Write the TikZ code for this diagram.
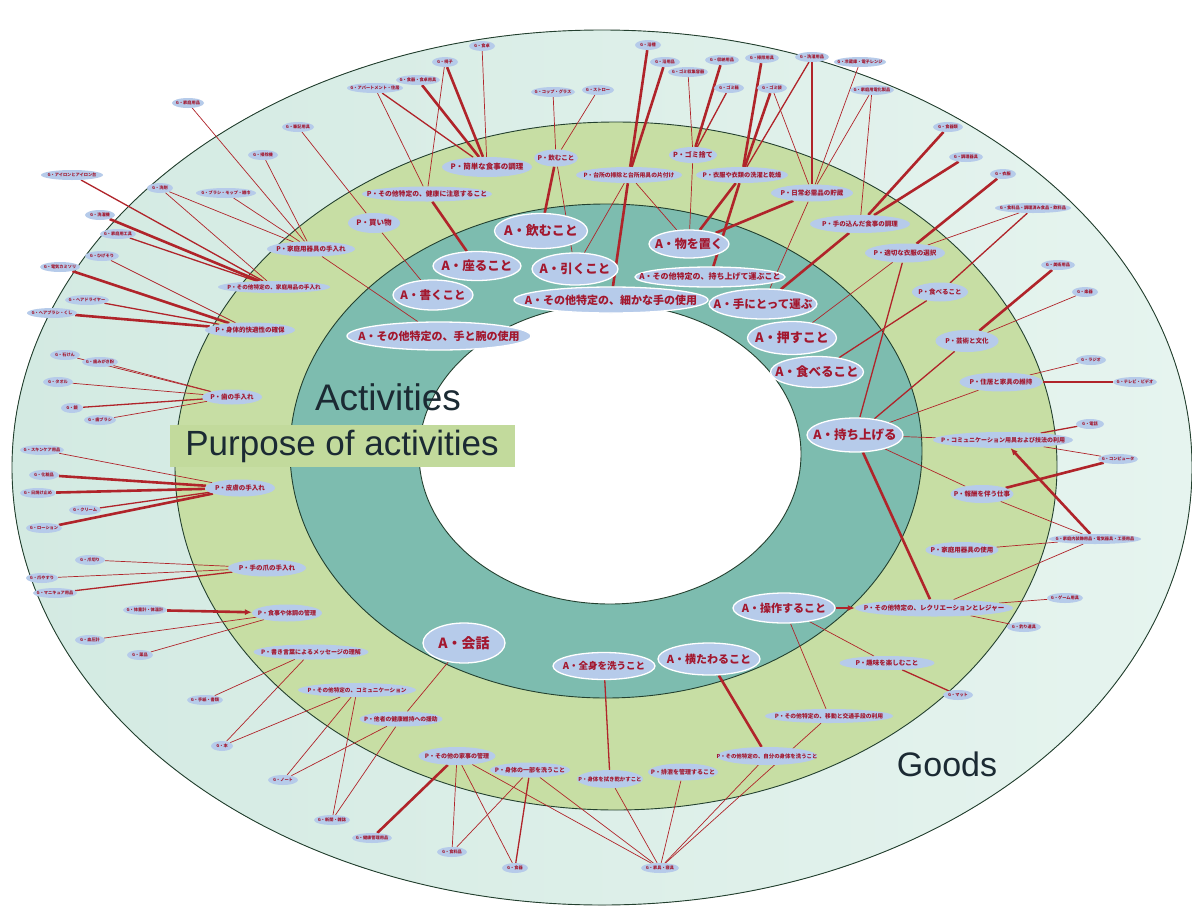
\documentclass[tikz,border=0pt]{standalone}
\usepackage{fontspec}
\newfontfamily\jp{Noto Sans CJK JP}
\newfontfamily\lab{Liberation Sans}
\usetikzlibrary{shapes.geometric,arrows.meta}
\definecolor{goodsA}{HTML}{D3EAE2}
\definecolor{goodsB}{HTML}{E6F4EF}
\definecolor{purring}{HTML}{C7DEA4}
\definecolor{actring}{HTML}{7DBCAF}
\definecolor{ringline}{HTML}{23402F}
\definecolor{blobfill}{HTML}{B6CBEA}
\definecolor{blobtext}{HTML}{A3172E}
\definecolor{linkred}{HTML}{B0242A}
\definecolor{labtext}{HTML}{1B2A33}
\definecolor{labbox}{HTML}{C2DA9C}
\pgfdeclarelayer{rings}
\pgfdeclarelayer{links}
\pgfsetlayers{rings,links,main}
\begin{document}
\begin{tikzpicture}[x=1pt,y=-1pt,
  ring/.style={draw=ringline, line width=0.9pt},
  boxed/.style={execute at begin node={\hbox to 0pt\bgroup\hss}, execute at end node={\hss\egroup}},
  fs/.style={font=\jp\bfseries\fontsize{#1}{#1}\selectfont},
  blob/.style={ellipse, inner sep=0pt, fill=blobfill, text=blobtext, boxed},
  act/.style n args={3}{blob, draw=white, line width=1.3pt, minimum width=#1, minimum height=#2, fs=#3},
  pur/.style n args={3}{blob, minimum width=#1, minimum height=#2, fs=#3},
  gd/.style={blob, minimum width=#1, minimum height=10, fs=4.2},
  lk/.style={draw=linkred, line width=0.7pt},
  lkm/.style={draw=linkred, line width=1.3pt},
  lkt/.style={draw=linkred, line width=2.6pt},
  lka/.style={draw=linkred, line width=2.6pt, -{Latex[length=7pt,width=6pt]}},
  biglab/.style={font=\lab\fontsize{#1}{#1}\selectfont, text=labtext, inner sep=0pt}
]
\useasboundingbox (0,0) rectangle (1192,908);

\begin{pgfonlayer}{rings}
  \fill[white] (0,0) rectangle (1192,908);
  \fill[left color=goodsA, right color=goodsB] (602,467.5) ellipse [x radius=590pt, y radius=437.5pt];
  \draw[ring] (602,467.5) ellipse [x radius=590pt, y radius=437.5pt];
  \fill[purring] (616,466) ellipse [x radius=441pt, y radius=344pt];
  \draw[ring] (616,466) ellipse [x radius=441pt, y radius=344pt];
  \fill[actring] (606,451) ellipse [x radius=316pt, y radius=247pt];
  \draw[ring] (606,451) ellipse [x radius=316pt, y radius=247pt];
  \fill[white] (610,454) ellipse [x radius=191pt, y radius=150pt];
  \draw[ring] (610,454) ellipse [x radius=191pt, y radius=150pt];
\end{pgfonlayer}

% ring titles
\node[biglab=37] (actlab) at (388,397) {Activities};
\node[biglab=35, fill=labbox, minimum width=345pt, minimum height=42pt] (purlab) at (342,446) {Purpose of activities};
\node[biglab=34] (goodlab) at (947,764) {Goods};

% activities
\node[act={93}{35}{13}] (a1) at (541,231) {A・飲むこと};
\node[act={88}{29}{12.5}] (a2) at (477,266) {A・座ること};
\node[act={86}{32}{12.5}] (a3) at (575,269) {A・引くこと};
\node[act={80}{30}{11.5}] (a4) at (433,295) {A・書くこと};
\node[act={194}{26}{11}] (a5) at (611,300) {A・その他特定の、細かな手の使用};
\node[act={184}{28}{11}] (a6) at (439,336) {A・その他特定の、手と腕の使用};
\node[act={80}{28}{12}] (a7) at (689,244) {A・物を置く};
\node[act={150}{20}{8}] (a8) at (710,277) {A・その他特定の、持ち上げて運ぶこと};
\node[act={108}{30}{11.5}] (a9) at (763,304) {A・手にとって運ぶ};
\node[act={89}{33}{13}] (a10) at (792,338) {A・押すこと};
\node[act={93}{31}{12.5}] (a11) at (817,372) {A・食べること};
\node[act={96}{34}{12.5}] (a12) at (855,435) {A・持ち上げる};
\node[act={102}{30}{11}] (a13) at (784,608) {A・操作すること};
\node[act={82}{40}{14}] (a14) at (464,643) {A・会話};
\node[act={102}{27}{9.5}] (a15) at (604,666) {A・全身を洗うこと};
\node[act={102}{32}{11}] (a16) at (709,659) {A・横たわること};

% purposes
\node[pur={90}{20}{7.5}] (p1) at (487,167) {P・簡単な食事の調理};
\node[pur={44}{17}{6.5}] (p2) at (556,158) {P・飲むこと};
\node[pur={106}{16}{5.8}] (p3) at (629,175) {P・台所の掃除と台所用具の片付け};
\node[pur={48}{16}{7}] (p4) at (693,155) {P・ゴミ捨て};
\node[pur={92}{16}{6.2}] (p5) at (742,175) {P・衣服や衣類の洗濯と乾燥};
\node[pur={82}{17}{6.5}] (p6) at (812,193) {P・日常必需品の貯蔵};
\node[pur={130}{15}{6.8}] (p7) at (427,194) {P・その他特定の、健康に注意すること};
\node[pur={52}{20}{7.5}] (p8) at (374,223) {P・買い物};
\node[pur={88}{15}{6.5}] (p9) at (311,249) {P・家庭用器具の手入れ};
\node[pur={112}{12}{5.6}] (p10) at (274,287) {P・その他特定の、家庭用品の手入れ};
\node[pur={90}{15}{6.5}] (p11) at (250,330) {P・身体的快適性の確保};
\node[pur={60}{15}{6.5}] (p12) at (232,397) {P・歯の手入れ};
\node[pur={70}{17}{6.5}] (p13) at (240,488) {P・皮膚の手入れ};
\node[pur={78}{17}{6.5}] (p14) at (267,568) {P・手の爪の手入れ};
\node[pur={70}{17}{6}] (p15) at (287,613) {P・食事や体調の管理};
\node[pur={115}{15}{6}] (p16) at (311,652) {P・書き言葉によるメッセージの理解};
\node[pur={118}{14}{5.6}] (p17) at (357,690) {P・その他特定の、コミュニケーション};
\node[pur={83}{15}{5.8}] (p18) at (401,719) {P・他者の健康維持への援助};
\node[pur={77}{18}{6}] (p19) at (457,756) {P・その他の家事の管理};
\node[pur={80}{15}{6}] (p20) at (530,770) {P・身体の一部を洗うこと};
\node[pur={66}{18}{5.4}] (p21) at (610,779) {P・身体を拭き乾かすこと};
\node[pur={70}{17}{6}] (p22) at (683,772) {P・排泄を管理すること};
\node[pur={100}{18}{5.4}] (p23) at (767,756) {P・その他特定の、自分の身体を洗うこと};
\node[pur={128}{14}{5.8}] (p24) at (829,716) {P・その他特定の、移動と交通手段の利用};
\node[pur={73}{16}{6.5}] (p25) at (962,550) {P・家庭用器具の使用};
\node[pur={158}{17}{6.5}] (p26) at (934,608) {P・その他特定の、レクリエーションとレジャー};
\node[pur={95}{14}{6.5}] (p27) at (887,663) {P・趣味を楽しむこと};
\node[pur={83}{19}{6.5}] (p28) at (1001,382) {P・住居と家具の維持};
\node[pur={140}{16}{6}] (p29) at (1003,440) {P・コミュニケーション用具および技法の利用};
\node[pur={63}{18}{6.5}] (p30) at (982,494) {P・報酬を伴う仕事};
\node[pur={100}{18}{6.5}] (p31) at (860,224) {P・手の込んだ食事の調理};
\node[pur={80}{19}{6.5}] (p32) at (905,253) {P・適切な衣服の選択};
\node[pur={56}{19}{6.5}] (p33) at (940,292) {P・食べること};
\node[pur={63}{22}{6.5}] (p34) at (967,341) {P・芸術と文化};

% goods
\node[gd=32] (g1) at (188,103) {G・家庭用品};
\node[gd=32] (g2) at (298,127) {G・筆記用具};
\node[gd=30] (g3) at (263,155) {G・掃除機};
\node[gd=60] (g4) at (226,193) {G・ブラシ・モップ・雑巾};
\node[gd=26] (g5) at (160,188) {G・洗剤};
\node[gd=62] (g6) at (72,175) {G・アイロンとアイロン台};
\node[gd=30] (g7) at (100,215) {G・洗濯機};
\node[gd=36] (g8) at (118,234) {G・家庭用工具};
\node[gd=40] (g9) at (60,267) {G・電気カミソリ};
\node[gd=34] (g10) at (102,256) {G・ひげそり};
\node[gd=44] (g11) at (87,300) {G・ヘアドライヤー};
\node[gd=50] (g12) at (52,313) {G・ヘアブラシ・くし};
\node[gd=30] (g13) at (65,355) {G・石けん};
\node[gd=36] (g14) at (100,362) {G・歯みがき粉};
\node[gd=30] (g15) at (58,382) {G・タオル};
\node[gd=22] (g16) at (72,408) {G・鏡};
\node[gd=32] (g17) at (100,420) {G・歯ブラシ};
\node[gd=44] (g18) at (42,450) {G・スキンケア用品};
\node[gd=30] (g19) at (44,475) {G・化粧品};
\node[gd=36] (g20) at (38,493) {G・日焼け止め};
\node[gd=32] (g21) at (85,510) {G・クリーム};
\node[gd=36] (g22) at (44,528) {G・ローション};
\node[gd=30] (g23) at (90,560) {G・爪切り};
\node[gd=32] (g24) at (42,578) {G・爪やすり};
\node[gd=44] (g25) at (55,593) {G・マニキュア用品};
\node[gd=44] (g26) at (145,610) {G・体重計・体温計};
\node[gd=30] (g27) at (90,640) {G・血圧計};
\node[gd=26] (g28) at (140,655) {G・薬品};
\node[gd=36] (g29) at (205,700) {G・手紙・書類};
\node[gd=22] (g30) at (222,746) {G・本};
\node[gd=30] (g31) at (283,780) {G・ノート};
\node[gd=36] (g32) at (332,820) {G・新聞・雑誌};
\node[gd=40] (g33) at (372,838) {G・健康管理用品};
\node[gd=30] (g34) at (452,852) {G・食料品};
\node[gd=26] (g35) at (515,868) {G・食器};
\node[gd=38] (g36) at (660,868) {G・家具・寝具};
\node[gd=30] (g37) at (958,695) {G・マット};
\node[gd=34] (g38) at (1024,627) {G・釣り道具};
\node[gd=36] (g39) at (1065,598) {G・ゲーム用具};
\node[gd=92] (g40) at (1095,539) {G・家庭内装飾用品・電気器具・工芸用品};
\node[gd=40] (g41) at (1118,459) {G・コンピュータ};
\node[gd=28] (g42) at (1090,424) {G・電話};
\node[gd=44] (g43) at (1135,382) {G・テレビ・ビデオ};
\node[gd=30] (g44) at (1091,360) {G・ラジオ};
\node[gd=26] (g45) at (1085,292) {G・楽器};
\node[gd=34] (g46) at (1058,265) {G・美術用品};
\node[gd=76] (g47) at (1033,208) {G・食料品・調理済み食品・飲料品};
\node[gd=26] (g48) at (1003,174) {G・衣服};
\node[gd=34] (g49) at (966,157) {G・調理器具};
\node[gd=30] (g50) at (948,127) {G・食器類};
\node[gd=44] (g51) at (872,90) {G・家庭用電化製品};
\node[gd=52] (g52) at (860,62) {G・冷蔵庫・電子レンジ};
\node[gd=34] (g53) at (812,57) {G・洗濯用品};
\node[gd=30] (g54) at (772,88) {G・ゴミ袋};
\node[gd=34] (g55) at (762,58) {G・掃除用具};
\node[gd=30] (g56) at (729,88) {G・ゴミ箱};
\node[gd=34] (g57) at (722,60) {G・収納用品};
\node[gd=30] (g58) at (665,62) {G・浴用品};
\node[gd=26] (g59) at (648,45) {G・浴槽};
\node[gd=44] (g60) at (553,92) {G・コップ・グラス};
\node[gd=32] (g61) at (598,90) {G・ストロー};
\node[gd=26] (g62) at (482,46) {G・食卓};
\node[gd=26] (g63) at (445,62) {G・椅子};
\node[gd=56] (g64) at (375,88) {G・アパートメント・住居};
\node[gd=44] (g65) at (418,80) {G・食器・食卓用具};
\node[gd=40] (g67) at (688,72) {G・ゴミ収集容器};

\begin{pgfonlayer}{links}
  % goods to purposes
  \draw[lk] (g62) -- (p1); \draw[lkt] (g63) -- (p1); \draw[lkt] (g65) -- (p1); \draw[lkm] (g64) -- (p1);
  \draw[lk] (g63) -- (p7); \draw[lk] (g64) -- (p7);
  \draw[lk] (g60) -- (p2); \draw[lk] (g61) -- (p2);
  \draw[lkt] (g59) -- (p3); \draw[lkt] (g58) -- (p3);
  \draw[lk] (g67) -- (p4); \draw[lkt] (g57) -- (p4); \draw[lkm] (g56) -- (p4);
  \draw[lkt] (g55) -- (p5); \draw[lkt] (g54) -- (p5); \draw[lkm] (g53) -- (p5);
  \draw[lkm] (g53) -- (p6); \draw[lk] (g52) -- (p6); \draw[lk] (g51) -- (p6); \draw[lk] (g54) -- (p6);
  \draw[lkt] (g50) -- (p31); \draw[lkt] (g49) -- (p31); \draw[lk] (g51) -- (p31);
  \draw[lkt] (g48) -- (p32); \draw[lk] (g47) -- (p32); \draw[lkm] (g47) -- (p33);
  \draw[lkt] (g46) -- (p34); \draw[lk] (g45) -- (p34);
  \draw[lk] (g44) -- (p28); \draw[lkt] (g43) -- (p28);
  \draw[lkm] (g42) -- (p29); \draw[lk] (g41) -- (p29); \draw[lkt] (g41) -- (p30);
  \draw[lk] (g40) -- (p30); \draw[lka] (g40) -- (p29); \draw[lk] (g40) -- (p25); \draw[lk] (g40) -- (p26);
  \draw[lk] (g39) -- (p26); \draw[lk] (g38) -- (p26); \draw[lkm] (g37) -- (p27);
  \draw[lk] (g36) -- (p19); \draw[lk] (g36) -- (p20); \draw[lk] (g36) -- (p21);
  \draw[lk] (g36) -- (p22); \draw[lk] (g36) -- (p23); \draw[lk] (g36) -- (p24);
  \draw[lkm] (g35) -- (p20); \draw[lk] (g35) -- (p19);
  \draw[lk] (g34) -- (p19); \draw[lk] (g34) -- (p20);
  \draw[lkt] (g33) -- (p19);
  \draw[lk] (g32) -- (p18); \draw[lk] (g32) -- (p17);
  \draw[lk] (g31) -- (p17); \draw[lk] (g31) -- (p18);
  \draw[lk] (g30) -- (p16); \draw[lk] (g30) -- (p17);
  \draw[lk] (g29) -- (p16);
  \draw[lk] (g28) -- (p15); \draw[lk] (g27) -- (p15);
  \draw[lka] (g26) -- (p15);
  \draw[lkm] (g25) -- (p14); \draw[lk] (g24) -- (p14); \draw[lk] (g23) -- (p14);
  \draw[lkt] (g22) -- (p13); \draw[lkm] (g21) -- (p13); \draw[lkt] (g20) -- (p13); \draw[lkt] (g19) -- (p13); \draw[lk] (g18) -- (p13);
  \draw[lk] (g17) -- (p12); \draw[lkm] (g16) -- (p12); \draw[lk] (g15) -- (p12); \draw[lk] (g14) -- (p12); \draw[lk] (g13) -- (p12);
  \draw[lkt] (g12) -- (p11); \draw[lkm] (g11) -- (p11); \draw[lkt] (g9) -- (p11); \draw[lk] (g10) -- (p11);
  \draw[lkm] (g8) -- (p10); \draw[lkt] (g7) -- (p10); \draw[lkm] (g6) -- (p10); \draw[lk] (g5) -- (p10);
  \draw[lk] (g4) -- (p9); \draw[lk] (g3) -- (p9); \draw[lk] (g1) -- (p9); \draw[lk] (g5) -- (p9);
  \draw[lk] (g2) -- (p8);
  % purposes to activities
  \draw[lkt] (p7) -- (a2);
  \draw[lk] (p8) -- (a4);
  \draw[lk] (p9) -- (a6);
  \draw[lkt] (p2) -- (a1);
  \draw[lk] (p2) -- (a3);
  \draw[lk] (p3) -- (a3);
  \draw[lkt] (p3) -- (a5);
  \draw[lk] (p3) -- (a7);
  \draw[lk] (p4) -- (a7);
  \draw[lkt] (p5) -- (a7);
  \draw[lkt] (p6) -- (a7);
  \draw[lkt] (p5) -- (a8);
  \draw[lkt] (p31) -- (a9);
  \draw[lk] (p6) -- (a9);
  \draw[lk] (p32) -- (a10);
  \draw[lkm] (p32) -- (a12);
  \draw[lkm] (p33) -- (a11);
  \draw[lkm] (p34) -- (a12);
  \draw[lk] (p28) -- (a12);
  \draw[lk] (a12) -- (p29);
  \draw[lk] (a12) -- (p30);
  \draw[lkt] (a12) -- (p26);
  \draw[lka] (a13) -- (p26);
  \draw[lk] (a13) -- (p27);
  \draw[lk] (a13) -- (p24);
  \draw[lkt] (a16) -- (p23);
  \draw[lkm] (a15) -- (p21);
  \draw[lk] (a14) -- (p18);
\end{pgfonlayer}
\end{tikzpicture}
\end{document}
